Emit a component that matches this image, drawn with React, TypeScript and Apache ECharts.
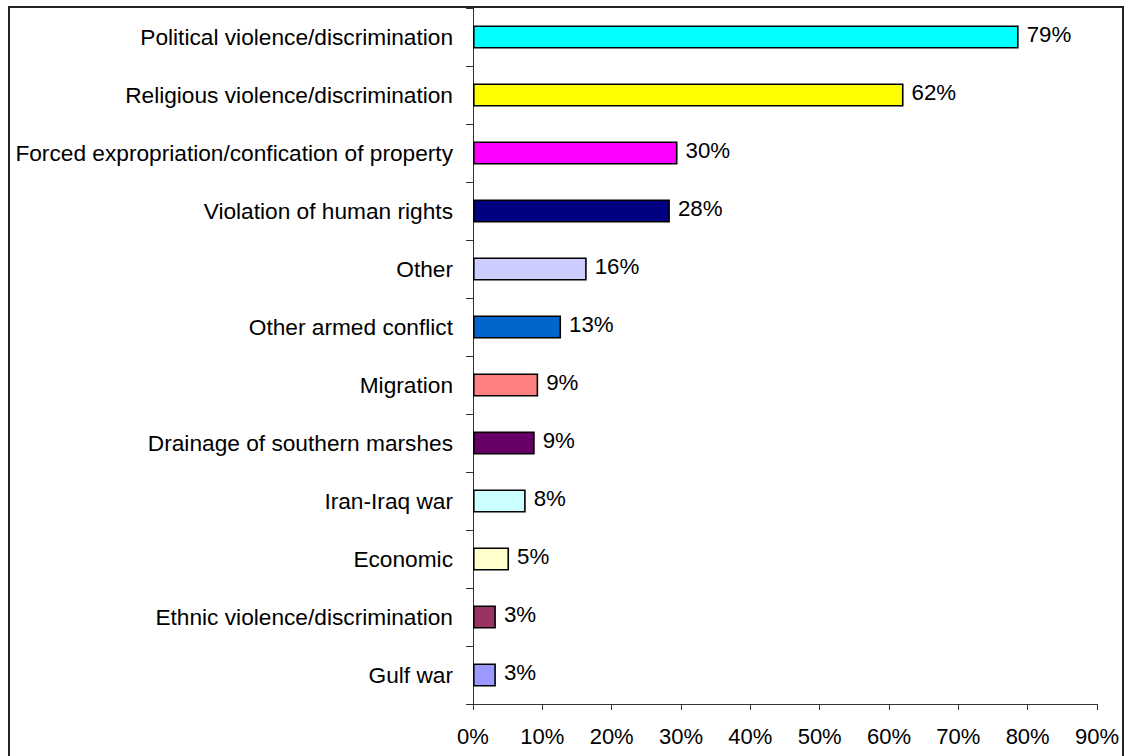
import React, { useEffect, useRef } from "react";
import * as echarts from "echarts";

const categories = [
  "Political violence/discrimination",
  "Religious violence/discrimination",
  "Forced expropriation/confication of property",
  "Violation of human rights",
  "Other",
  "Other armed conflict",
  "Migration",
  "Drainage of southern marshes",
  "Iran-Iraq war",
  "Economic",
  "Ethnic violence/discrimination",
  "Gulf war",
];

const values = [78.7, 62.1, 29.5, 28.4, 16.4, 12.7, 9.4, 8.9, 7.6, 5.2, 3.3, 3.3];

const barColors = [
  "#00FFFF",
  "#FFFF00",
  "#FF00FF",
  "#000080",
  "#CCCCFF",
  "#0066CC",
  "#FF8080",
  "#660066",
  "#CCFFFF",
  "#FFFFCC",
  "#993366",
  "#9999FF",
];

const xMin = 0;
const xMax = 90;
const xInterval = 10;

const FONT = "'Liberation Sans', Arial, sans-serif";

export default function App() {
  const ref = useRef<HTMLDivElement>(null);

  useEffect(() => {
    if (!ref.current) return;
    const chart = echarts.init(ref.current, null, { renderer: "svg" });
    chart.setOption({
      animation: false,
      backgroundColor: "#ffffff",
      grid: { left: 463, top: 0, width: 626, height: 696, containLabel: false },
      xAxis: {
        type: "value",
        min: xMin,
        max: xMax,
        interval: xInterval,
        splitLine: { show: false },
        axisLine: { show: true, lineStyle: { color: "#333", width: 1 } },
        axisTick: { show: true, length: 6, lineStyle: { color: "#333" } },
        axisLabel: {
          formatter: "{value}%",
          color: "#000",
          fontSize: 22,
          fontFamily: FONT,
          margin: 21,
        },
      },
      yAxis: {
        type: "category",
        inverse: true,
        data: categories,
        axisLine: { show: true, lineStyle: { color: "#333", width: 1 } },
        axisTick: { show: true, length: 7, lineStyle: { color: "#333" } },
        axisLabel: {
          color: "#000",
          fontSize: 22.7,
          fontFamily: FONT,
          margin: 20,
        },
      },
      series: [
        {
          type: "bar",
          barWidth: 23,
          data: values.map((v, i) => ({
            value: v,
            itemStyle: { color: barColors[i], borderColor: "#000", borderWidth: 1.6 },
          })),
          label: {
            show: true,
            position: "right",
            distance: 8,
            color: "#000",
            fontSize: 22.3,
            fontFamily: FONT,
            offset: [0, -3],
            formatter: (p: any) => Math.round(p.value) + "%",
          },
        },
      ],
    });
    return () => chart.dispose();
  }, []);

  return (
    <div
      style={{
        position: "fixed",
        left: 8,
        top: 6,
        border: "2px solid #222",
        width: 1112,
        height: 760,
        background: "#fff",
      }}
    >
      <div ref={ref} style={{ width: 1112, height: 760 }} />
    </div>
  );
}
